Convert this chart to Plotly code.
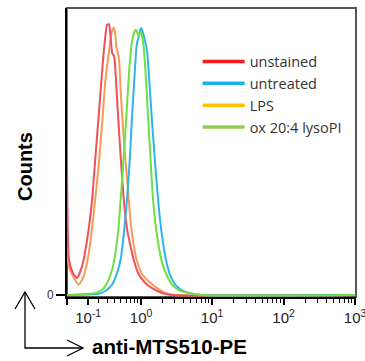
import numpy as np
import plotly.graph_objects as go

# ---- data (fluorescence intensity, relative counts) ----
red_x = [-0.074, -0.057, -0.024, 0.008, 0.049, 0.090, 0.134, 0.166, 0.200, 0.235, 0.265, 0.293, 0.317, 0.337,
         0.36, 0.391, 0.433, 0.493, 0.556, 0.626, 0.700, 0.784, 0.907, 1.15, 1.43, 1.99, 2.74, 1000]
red_y = [130, 12.1, 7.6, 5.9, 10.0, 19.0, 32.9, 48.1, 63.0, 77.9, 88.2, 94.1, 94.4, 90.7,
         84.4, 83.0, 68.9, 49.1, 32.9, 22.5, 17.0, 12.1, 7.6, 4.2, 2.4, 0.7, 0, 0]

orange_x = [-0.074, -0.059, 0.022, 0.063, 0.105, 0.150, 0.200, 0.235, 0.272, 0.317, 0.351, 0.385, 0.408, 0.423,
            0.449, 0.470, 0.503, 0.556, 0.626, 0.70, 0.784, 0.864, 1.016, 1.28, 1.69, 2.21, 3.06, 1000]
orange_y = [130, 10.0, 3.6, 6.6, 14.5, 28.4, 45.7, 59.5, 74.4, 84.8, 91.3, 93.1, 90.7, 86.2,
            84.4, 81.3, 68.9, 53.6, 39.8, 26.0, 17.0, 12.1, 7.6, 4.8, 2.4, 0.7, 0, 0]

blue_x = [-0.074, 0.200, 0.272, 0.36, 0.433, 0.493, 0.556, 0.626, 0.686, 0.741, 0.81, 0.864, 0.94, 0.998,
          1.07, 1.13, 1.22, 1.31, 1.43, 1.60, 1.78, 1.99, 2.26, 2.61, 3.06, 3.80, 4.71, 7.2, 1000]
blue_y = [0, 0.4, 1.4, 3.6, 7.6, 12.1, 21.5, 34.3, 48.1, 63.0, 77.9, 87.2, 90.7, 93.0,
          91.2, 88.9, 84.9, 74.5, 60.7, 44.6, 30.8, 20.4, 12.1, 6.6, 3.5, 1.6, 0.7, 0, 0]

green_x = [-0.074, 0.166, 0.235, 0.293, 0.36, 0.408, 0.460, 0.503, 0.556, 0.61, 0.663, 0.717, 0.784, 0.845,
           0.925, 0.998, 1.09, 1.18, 1.25, 1.36, 1.46, 1.60, 1.78, 1.99, 2.34, 2.75, 3.42, 4.71, 7.2, 1000]
green_y = [0, 0.7, 1.8, 4.2, 8.8, 14.5, 23.9, 35.3, 49.1, 63.0, 76.8, 86.2, 91.3, 92.4,
           90.1, 91.8, 86.2, 74.4, 63.0, 48.1, 35.3, 24.9, 17.0, 11.1, 6.6, 3.5, 1.7, 0.7, 0, 0]

series_names = ["unstained", "untreated", "LPS", "ox 20:4 lysoPI"]
legend_colors = ["#FF1A1A", "#1AAFEF", "#FFC000", "#92D050"]

major_vals = [0.1, 1, 10, 100, 1000]
major_text = ["10<sup>-1</sup>", "10<sup>0</sup>", "10<sup>1</sup>", "10<sup>2</sup>", "10<sup>3</sup>"]
x_min_val = -0.074

# biexponential-like display transform (arcsinh)
COF = 0.25
def T(v):
    return np.arcsinh(np.asarray(v, dtype=float) / COF) / np.log(10)

minor_vals = [m * d for d in [0.1, 1, 10, 100] for m in range(2, 10)]

fig = go.Figure()

curves = [
    (orange_x, orange_y, "#FA9B55"),
    (red_x, red_y, "#F0505A"),
    (blue_x, blue_y, "#2DB4F0"),
    (green_x, green_y, "#6EE041"),
]
for xs, ys, col in curves:
    fig.add_trace(go.Scatter(x=T(xs), y=ys, mode="lines", showlegend=False,
                             line=dict(color=col, width=2, shape="spline", smoothing=0.5),
                             hoverinfo="skip"))

for name, col in zip(series_names, legend_colors):
    fig.add_trace(go.Scatter(x=[None], y=[None], mode="lines", name=name,
                             line=dict(color=col, width=3.5)))

tick_font = dict(family="Arial, Liberation Sans", size=15, color="#222")

fig.update_layout(
    width=365, height=361,
    margin=dict(l=67, r=9, t=8, b=64, autoexpand=False),
    paper_bgcolor="white", plot_bgcolor="white",
    xaxis=dict(
        range=[float(T(x_min_val)), float(T(1000)) + 0.012],
        tickmode="array",
        tickvals=[float(v) for v in T([x_min_val] + major_vals)],
        ticktext=[""] + major_text,
        ticks="outside", ticklen=6, tickwidth=1.5, tickcolor="black",
        showline=True, linecolor="black", linewidth=2,
        showgrid=False, zeroline=False, automargin=False,
        tickfont=tick_font, ticklabeloverflow="allow",
        minor=dict(tickmode="array", tickvals=[float(v) for v in T(minor_vals)],
                   ticks="outside", ticklen=4, tickwidth=1.2, tickcolor="black"),
    ),
    yaxis=dict(
        range=[-0.7, 100],
        tickmode="array", tickvals=[0], ticktext=["0"],
        ticks="outside", ticklen=9, tickwidth=1.5, tickcolor="black",
        showline=True, linecolor="black", linewidth=2,
        showgrid=False, zeroline=False, automargin=False,
        tickfont=dict(family="Arial, Liberation Sans", size=12, color="#333"),
    ),
    legend=dict(
        x=0.452, y=0.87, xanchor="left", yanchor="top",
        font=dict(family="Open Sans", size=14.5, color="#333"),
        bgcolor="rgba(0,0,0,0)", itemwidth=42,
    ),
    showlegend=True,
)

# frame (top/right in gray)
fig.add_shape(type="rect", xref="paper", yref="paper", x0=0, y0=0, x1=1, y1=1,
              line=dict(color="#555555", width=2), layer="below")

def P(px, py):
    return ((px - 67) / 289.0, (297 - py) / 289.0)

def path(pts):
    s = ""
    for i, (px, py) in enumerate(pts):
        xp, yp = P(px, py)
        s += ("M" if i == 0 else "L") + f"{xp:.4f},{yp:.4f} "
    return s

arrow_line = dict(color="black", width=1.3)
fig.add_shape(type="path", xref="paper", yref="paper",
              path=path([(25, 292), (25, 348), (83, 348)]), line=arrow_line)
fig.add_shape(type="path", xref="paper", yref="paper",
              path=path([(15, 309), (25, 292), (35, 309)]), line=arrow_line)
fig.add_shape(type="path", xref="paper", yref="paper",
              path=path([(67, 340), (83, 348), (67, 356)]), line=arrow_line)

title_font = dict(family="Arial, Liberation Sans", size=20, color="black")
cx, cy = P(25, 167)
fig.add_annotation(text="<b>Counts</b>", xref="paper", yref="paper", x=cx, y=cy,
                   textangle=-90, showarrow=False, font=title_font,
                   xanchor="center", yanchor="middle")
tx, ty = P(90, 346)
fig.add_annotation(text="<b>anti-MTS510-PE</b>", xref="paper", yref="paper", x=tx, y=ty,
                   showarrow=False, font=dict(family="Arial, Liberation Sans", size=20.5, color="black"),
                   xanchor="left", yanchor="middle")

fig.write_html("out.html")
